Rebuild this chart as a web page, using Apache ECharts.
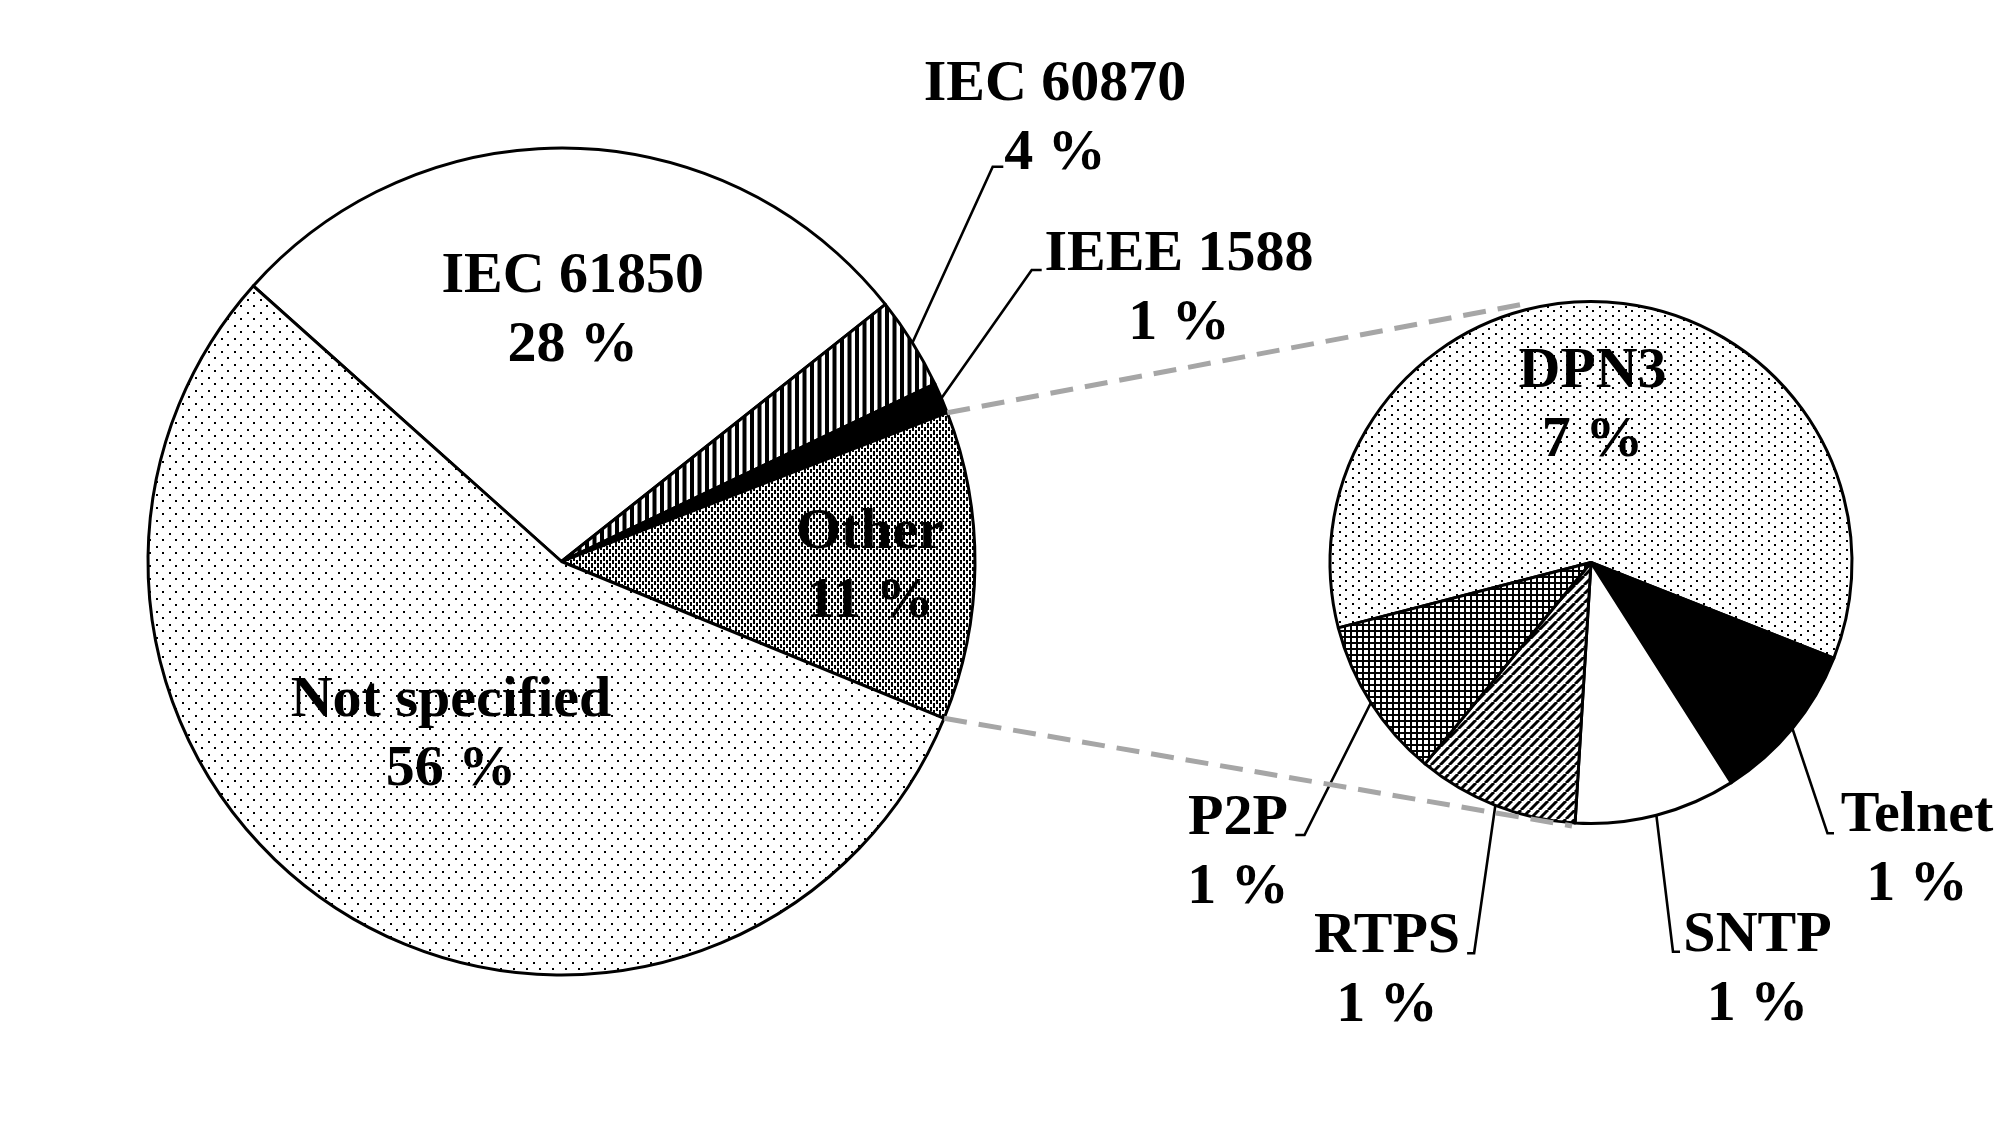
<!DOCTYPE html>
<html><head><meta charset="utf-8">
<script src="https://cdn.jsdelivr.net/npm/echarts@6/dist/echarts.min.js"></script>
<style>html,body{margin:0;padding:0;background:#fff}#c{width:2000px;height:1125px}</style>
</head><body><div id="c"></div>
<script>
// ---------------- data ----------------
const mainNames = ['IEC 61850', 'IEC 60870', 'IEEE 1588', 'Other', 'Not specified'];
const mainCounts = [23, 3, 1, 10, 46];
const mainPctLabels = [28, 4, 1, 11, 56];
const subNames = ['DPN3', 'Telnet', 'SNTP', 'RTPS', 'P2P'];
const subCounts = [6, 1, 1, 1, 1];
const subPctLabels = [7, 1, 1, 1, 1];

// ---------------- layout / style ----------------
const MAIN = { cx: 561.5, cy: 561.5, r: 413.5, start: 138.2 };
const SUB = { cx: 1591, cy: 562.5, r: 261, start: 194.5 };
const FONT = { fontFamily: 'Liberation Serif', fontWeight: 'bold', fontSize: 58, lineHeight: 69, color: '#000' };
const LABEL_DY = 5.5;
const LABEL_AT = {
  'IEC 61850': [572.8, 305.7],
  'IEC 60870': [1055, 114.2],
  'IEEE 1588': [1179, 283.8],
  'Other': [870, 561.8],
  'Not specified': [451, 730.4],
  'DPN3': [1592.5, 400.8],
  'P2P': [1238, 848],
  'RTPS': [1387, 966.3],
  'SNTP': [1757.5, 964.9],
  'Telnet': [1917, 845.4]
};
const LEADER = {
  'IEC 60870': [[992.7, 166.7], [1003.3, 166.7]],
  'IEEE 1588': [[1031.7, 270], [1041.7, 270]],
  'P2P': [[1304.5, 835], [1295.3, 835]],
  'RTPS': [[1474.1, 953.3], [1467.1, 953.3]],
  'SNTP': [[1673, 951.7], [1680, 951.7]],
  'Telnet': [[1827.5, 833.3], [1834, 833.3]]
};
const CONNECT_END = [[1520, 304.8], [1572, 826]];

function pattern(w, h, draw) {
  const c = document.createElement('canvas');
  c.width = w; c.height = h;
  const g = c.getContext('2d');
  g.fillStyle = '#fff'; g.fillRect(0, 0, w, h);
  g.fillStyle = '#000'; g.strokeStyle = '#000';
  draw(g);
  return { image: c, repeat: 'repeat' };
}
const FILL = {
  'IEC 61850': '#ffffff',
  'IEC 60870': pattern(15, 4, g => { g.fillRect(0, 0, 4, 4); g.fillRect(7.5, 0, 4, 4); }),
  'IEEE 1588': '#000000',
  'Other': pattern(6, 7, g => { g.fillRect(0, 0, 2, 4); g.fillRect(3, 3, 2, 4); g.fillRect(3, 0, 2, 1); }),
  'Not specified': pattern(13, 13, g => { g.fillRect(0, 0, 2, 2); g.fillRect(6, 6, 2, 2); }),
  'DPN3': pattern(13, 9, g => { g.fillRect(0, 0, 2, 2); g.fillRect(6, 4, 2, 2); }),
  'Telnet': '#000000',
  'SNTP': '#ffffff',
  'RTPS': pattern(9, 9, g => {
    g.lineWidth = 3;
    for (const x0 of [-9, 0, 9]) { g.beginPath(); g.moveTo(x0, 9); g.lineTo(x0 + 9, 0); g.stroke(); }
  }),
  'P2P': pattern(6, 6, g => { g.fillRect(0, 0, 2, 6); g.fillRect(0, 0, 6, 2); })
};

// angles derived from the data
function sliceAngles(counts, start) {
  const total = counts.reduce((a, b) => a + b, 0);
  let a = start;
  return counts.map(v => {
    const span = v / total * 360;
    const s = { from: a, to: a - span, mid: a - span / 2 };
    a -= span;
    return s;
  });
}
const mainAng = sliceAngles(mainCounts, MAIN.start);
const subAng = sliceAngles(subCounts, SUB.start);
function onEdge(p, deg) {
  const t = deg * Math.PI / 180;
  return [p.cx + p.r * Math.cos(t), p.cy - p.r * Math.sin(t)];
}

function buildData(names, counts, pcts) {
  return names.map((n, i) => {
    const outside = !!LEADER[n];
    return {
      name: n, value: counts[i], pct: pcts[i],
      itemStyle: { color: FILL[n] },
      label: { position: outside ? 'outside' : 'inside' },
      labelLine: { show: outside }
    };
  });
}

function layoutFn(names, angs, geo) {
  return function (p) {
    const n = names[p.dataIndex];
    const pos = LABEL_AT[n];
    const res = { x: pos[0], y: pos[1] + LABEL_DY, align: 'center', verticalAlign: 'middle' };
    if (LEADER[n]) {
      res.labelLinePoints = [onEdge(geo, angs[p.dataIndex].mid), LEADER[n][0], LEADER[n][1]];
    }
    return res;
  };
}

function pieSeries(names, counts, pcts, angs, geo) {
  return {
    type: 'pie',
    center: [geo.cx, geo.cy],
    radius: geo.r,
    startAngle: geo.start,
    clockwise: true,
    avoidLabelOverlap: false,
    silent: true,
    animation: false,
    emphasis: { disabled: true },
    itemStyle: { borderColor: '#000', borderWidth: 3 },
    label: Object.assign({
      show: true,
      formatter: p => p.name + '\n' + p.data.pct + ' %'
    }, FONT),
    labelLine: { show: true, smooth: false, lineStyle: { color: '#000', width: 2.6 } },
    labelLayout: layoutFn(names, angs, geo),
    data: buildData(names, counts, pcts)
  };
}

const otherIdx = mainNames.indexOf('Other');
const pTop = onEdge(MAIN, mainAng[otherIdx].from);
const pBot = onEdge(MAIN, mainAng[otherIdx].to);
const dash = { stroke: '#a6a6a6', lineWidth: 5, lineDash: [23, 12] };

const chart = echarts.init(document.getElementById('c'), null, { renderer: 'canvas' });
chart.setOption({
  backgroundColor: '#ffffff',
  animation: false,
  series: [
    pieSeries(mainNames, mainCounts, mainPctLabels, mainAng, MAIN),
    pieSeries(subNames, subCounts, subPctLabels, subAng, SUB)
  ],
  graphic: [
    { type: 'line', z: 100, silent: true, shape: { x1: pTop[0], y1: pTop[1], x2: CONNECT_END[0][0], y2: CONNECT_END[0][1] }, style: dash },
    { type: 'line', z: 100, silent: true, shape: { x1: pBot[0], y1: pBot[1], x2: CONNECT_END[1][0], y2: CONNECT_END[1][1] }, style: dash }
  ]
});
</script>
</body></html>
